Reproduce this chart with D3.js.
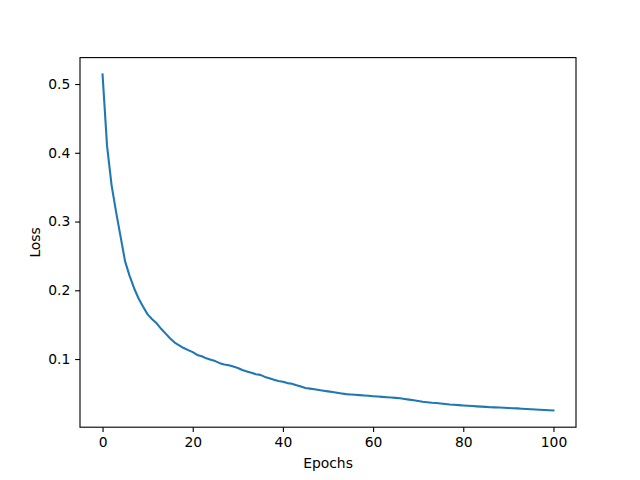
<!DOCTYPE html>
<html><head><meta charset="utf-8">
<script src="https://cdn.jsdelivr.net/npm/d3@7"></script>
<style>body{margin:0;background:#fff}svg{display:block}</style>
</head><body>
<svg id="c" width="640" height="480"></svg>
<script>
const epochs = d3.range(0, 101);
const loss = [
0.514,0.410,0.353,0.314,0.278,0.242,0.221,0.203,0.188,0.176,
0.165,0.158,0.152,0.144,0.137,0.130,0.124,0.120,0.116,0.113,
0.110,0.106,0.104,0.101,0.099,0.097,0.094,0.092,0.091,0.089,
0.087,0.084,0.082,0.080,0.078,0.077,0.074,0.072,0.070,0.068,
0.067,0.065,0.064,0.062,0.060,0.058,0.057,0.056,0.055,0.054,
0.053,0.052,0.051,0.050,0.049,0.0485,0.048,0.0475,0.047,0.0465,
0.046,0.0455,0.045,0.0445,0.044,0.0435,0.043,0.042,0.041,0.040,
0.039,0.038,0.0372,0.0365,0.036,0.0353,0.0347,0.034,0.0335,0.033,
0.0325,0.032,0.0316,0.0312,0.0308,0.0304,0.030,0.0297,0.0294,0.0291,
0.0288,0.0285,0.0282,0.0278,0.0274,0.027,0.0266,0.0262,0.0259,0.0256,
0.0253];
const xTicks = [0, 20, 40, 60, 80, 100];
const yTicks = [0.1, 0.2, 0.3, 0.4, 0.5];
const xLabel = "Epochs", yLabel = "Loss";

const L = 80, R = 576, T = 57.6, B = 427.2;
const fs = 13.89, tickLen = 4.86, pad = 4.86;
const svg = d3.select("#c");
const xmin = d3.min(epochs), xmax = d3.max(epochs);
const ymin = d3.min(loss), ymax = d3.max(loss);
const xm = (xmax - xmin) * 0.05, ym = (ymax - ymin) * 0.05;
const x = d3.scaleLinear().domain([xmin - xm, xmax + xm]).range([L, R]);
const y = d3.scaleLinear().domain([ymin - ym, ymax + ym]).range([B, T]);

const font = "'DejaVu Sans', sans-serif";

svg.append("path")
  .datum(epochs.map((e, i) => [e, loss[i]]))
  .attr("fill", "none").attr("stroke", "#1f77b4").attr("stroke-width", 2.08)
  .attr("stroke-linejoin", "round").attr("stroke-linecap", "square")
  .attr("d", d3.line().x(d => x(d[0])).y(d => y(d[1])));

const xa = svg.append("g").attr("transform", `translate(0,${B})`)
  .call(d3.axisBottom(x).tickValues(xTicks).tickFormat(d3.format("d")).tickSizeInner(tickLen).tickSizeOuter(0).tickPadding(pad));
const ya = svg.append("g").attr("transform", `translate(${L},0)`)
  .call(d3.axisLeft(y).tickValues(yTicks).tickFormat(d3.format(".1f")).tickSizeInner(tickLen).tickSizeOuter(0).tickPadding(pad));
[xa, ya].forEach(g => {
  g.select(".domain").remove();
  g.selectAll(".tick line").attr("stroke", "#000").attr("stroke-width", 1.11);
  g.selectAll(".tick text").attr("font-family", font).attr("font-size", fs).attr("fill", "#000");
});
xa.selectAll(".tick text").attr("dy", "0.74em");

svg.append("rect").attr("x", L).attr("y", T).attr("width", R - L).attr("height", B - T)
  .attr("fill", "none").attr("stroke", "#000").attr("stroke-width", 1.11);

svg.append("text").attr("x", (L + R) / 2).attr("y", 468).attr("text-anchor", "middle")
  .attr("font-family", font).attr("font-size", fs).text(xLabel);
svg.append("text").attr("transform", `translate(40,${(T + B) / 2}) rotate(-90)`).attr("text-anchor", "middle")
  .attr("font-family", font).attr("font-size", fs).text(yLabel);
</script>
</body></html>
